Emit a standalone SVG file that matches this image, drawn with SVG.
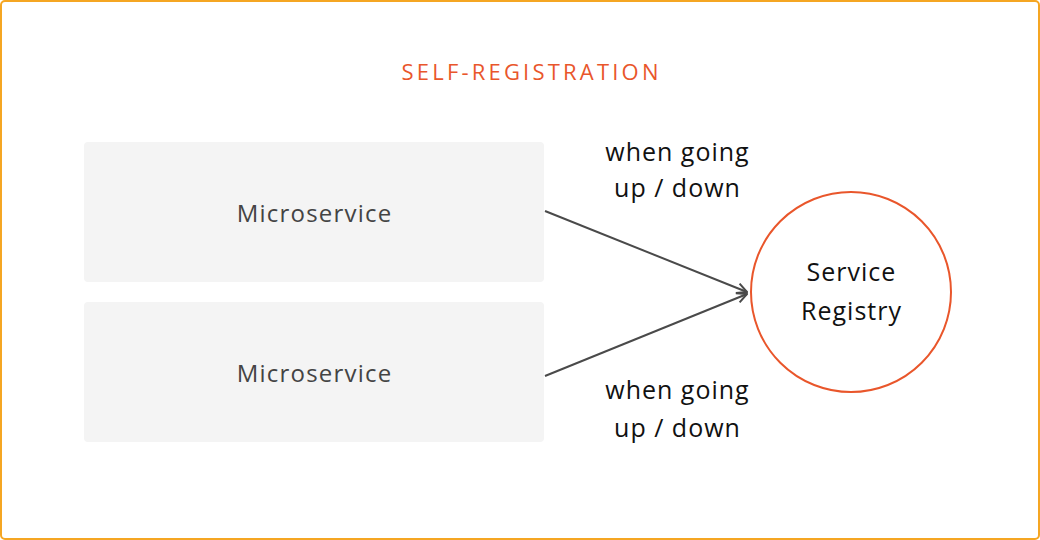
<svg xmlns="http://www.w3.org/2000/svg" width="1040" height="540" viewBox="0 0 1040 540">
<style>
.title{font-family:"Open Sans",Lato,sans-serif;font-size:22px;fill:#E9562B;letter-spacing:3.2px;text-anchor:middle}
.box{fill:#F4F4F4}
.btxt{font-family:"Open Sans",Lato,sans-serif;font-size:24px;fill:#444;letter-spacing:1.2px;text-anchor:middle}
.lbl{font-family:"Open Sans",Lato,sans-serif;font-size:25px;fill:#111;letter-spacing:1px;text-anchor:middle}
.conn{stroke:#4a4a4a;stroke-width:2;fill:none}
</style>
<defs>
<marker id="arr" viewBox="0 0 12 12" refX="11" refY="6" markerWidth="12" markerHeight="12" markerUnits="userSpaceOnUse" orient="auto">
<path d="M1,1 L11,6 L1,11" fill="none" stroke="#4a4a4a" stroke-width="2"/>
</marker>
</defs>
<rect x="1" y="1" width="1038" height="538" rx="4" fill="#fff" stroke="#F5A623" stroke-width="2"/>
<text class="title" x="531.6" y="80">SELF-REGISTRATION</text>
<g id="ms1"><rect class="box" x="84" y="142" width="460" height="140" rx="4"/><text class="btxt" x="314.6" y="222">Microservice</text></g>
<g id="ms2"><rect class="box" x="84" y="302" width="460" height="140" rx="4"/><text class="btxt" x="314.6" y="382">Microservice</text></g>
<g id="registry"><circle cx="851" cy="292" r="100" fill="#fff" stroke="#E9562B" stroke-width="2"/><text class="lbl" x="851.5" y="281">Service</text><text class="lbl" x="851.5" y="320">Registry</text></g>
<g id="connectors">
<line class="conn" x1="545" y1="211" x2="747" y2="292" marker-end="url(#arr)"/>
<line class="conn" x1="545" y1="376" x2="747" y2="294" marker-end="url(#arr)"/>
<text class="lbl" x="677.5" y="161">when going</text><text class="lbl" x="677.5" y="197">up / down</text>
<text class="lbl" x="677.5" y="399">when going</text><text class="lbl" x="677.5" y="437">up / down</text>
</g>
</svg>
